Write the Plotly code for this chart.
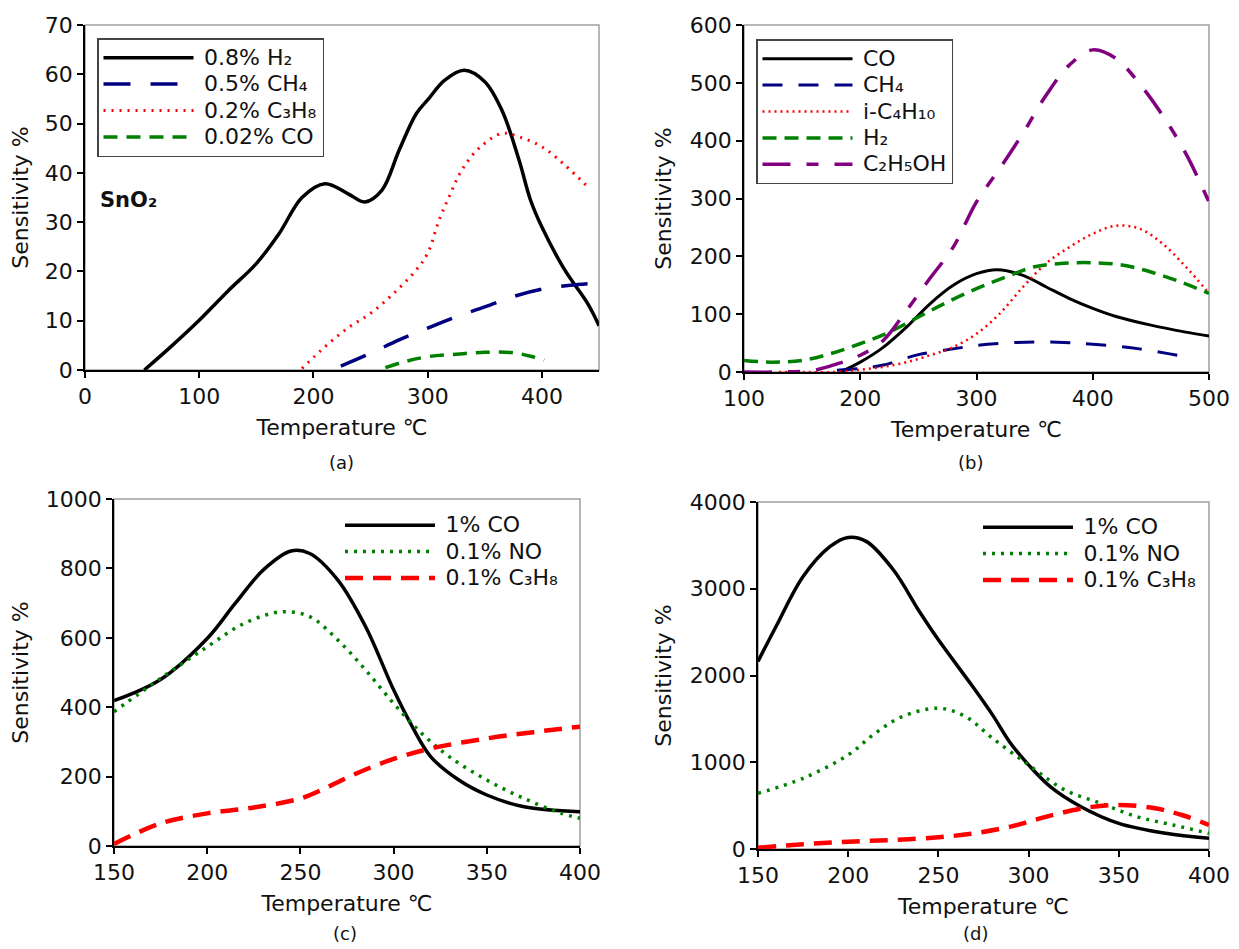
import plotly.graph_objects as go

# ---------------- data ----------------
# (a) SnO2
a_h2_T = [52, 75, 100, 125, 150, 170, 190, 210, 230, 245, 260, 275, 290, 300, 315, 332, 350, 365, 380, 390, 400, 420, 440, 450]
a_h2_S = [0, 4.7, 10.1, 16, 21.6, 27.7, 35, 37.8, 35.8, 34.1, 36.5, 44.6, 52, 54.8, 58.8, 60.8, 58.5, 52.7, 42.6, 34.5, 29, 20.3, 13.5, 9]
a_ch4_T = [224, 250, 275, 300, 325, 350, 375, 400, 425, 445]
a_ch4_S = [0.8, 3.4, 6.1, 8.5, 10.8, 12.8, 14.9, 16.4, 17.2, 17.6]
a_c3h8_T = [190, 210, 230, 250, 270, 290, 300, 310, 320, 330, 345, 365, 380, 400, 420, 440]
a_c3h8_S = [0.3, 4.7, 8.5, 11.5, 15.5, 20.3, 23.7, 30.4, 35.8, 40.6, 45, 48, 47.3, 45.3, 41.6, 37.2]
a_co_T = [263, 280, 300, 325, 350, 375, 390, 402]
a_co_S = [0.5, 1.7, 2.7, 3.2, 3.6, 3.5, 2.8, 2.0]

# (b)
b_co_T = [183, 200, 220, 240, 260, 280, 300, 318, 340, 360, 380, 400, 420, 450, 480, 500]
b_co_S = [0, 17, 43, 78, 118, 150, 170, 177, 167, 147, 127, 110, 96, 81, 69, 62]
b_ch4_T = [180, 200, 220, 250, 280, 300, 325, 350, 375, 400, 440, 483]
b_ch4_S = [3, 6, 12, 30, 40, 46, 50, 52, 51, 48, 40, 25]
b_c4h10_T = [130, 150, 177, 200, 220, 240, 260, 280, 300, 320, 340, 360, 380, 400, 420, 440, 460, 480, 500]
b_c4h10_S = [0, 0, 0, 4, 9, 17, 29, 43, 66, 101, 147, 188, 216, 239, 253, 248, 222, 182, 136]
b_h2_T = [100, 125, 150, 175, 200, 225, 250, 275, 300, 325, 350, 375, 400, 425, 450, 475, 500]
b_h2_S = [20, 17, 20, 32, 49, 69, 95, 121, 144, 164, 182, 188, 189, 185, 173, 156, 136]
b_eth_T = [100, 130, 160, 180, 200, 220, 240, 260, 280, 300, 320, 340, 360, 380, 400, 420, 440, 460, 480, 500]
b_eth_S = [0, 0, 3, 14, 29, 55, 107, 162, 216, 294, 352, 413, 479, 531, 557, 542, 499, 444, 378, 294]

# (c)
c_co_T = [150, 175, 200, 215, 230, 245, 255, 270, 285, 300, 310, 320, 335, 350, 370, 400]
c_co_S = [419, 480, 598, 699, 795, 850, 843, 767, 632, 450, 344, 257, 190, 147, 113, 99]
c_no_T = [150, 175, 200, 220, 240, 255, 270, 285, 300, 315, 330, 350, 370, 390, 400]
c_no_S = [387, 483, 574, 642, 675, 661, 594, 507, 411, 325, 257, 190, 137, 94, 80]
c_c3h8_T = [150, 175, 200, 225, 250, 265, 280, 300, 320, 350, 375, 400]
c_c3h8_S = [6, 65, 94, 111, 137, 171, 209, 251, 281, 310, 328, 344]

# (d)
d_co_T = [150, 160, 175, 190, 200, 210, 225, 240, 250, 269, 280, 290, 300, 312, 329, 350, 376, 400]
d_co_S = [2162, 2565, 3142, 3488, 3592, 3546, 3219, 2720, 2411, 1873, 1546, 1219, 969, 719, 488, 296, 181, 123]
d_no_T = [150, 175, 200, 215, 230, 250, 265, 280, 300, 320, 340, 360, 380, 400]
d_no_S = [642, 815, 1085, 1335, 1527, 1623, 1527, 1277, 969, 681, 527, 373, 277, 181]
d_c3h8_T = [150, 175, 200, 225, 250, 270, 290, 310, 330, 350, 370, 385, 400]
d_c3h8_S = [15, 54, 85, 104, 135, 181, 258, 373, 469, 508, 469, 392, 277]

xtitle = "Temperature ℃"
ytitle = "Sensitivity %"

# ---------------- figure ----------------
OFF = 8                      # page body margin of the browser
W, H = 1239 - OFF, 949 - OFF
FONT = "DejaVu Sans"
FS = 22
fig = go.Figure()

def fx(X):
    return (X - OFF) / W

def fy(Y):
    return (H - (Y - OFF)) / H

def lab(s):
    return '<span style="font-size:22px">\u2005' + s + '</span>'

def add(x, y, name, color, width, dash, ax, legend):
    fig.add_trace(go.Scatter(
        x=x, y=y, name=lab(name), mode="lines",
        line=dict(color=color, width=width, dash=dash, shape="spline", smoothing=1.0),
        xaxis="x" + ("" if ax == 1 else str(ax)),
        yaxis="y" + ("" if ax == 1 else str(ax)),
        legend="legend" + ("" if legend == 1 else str(legend)),
    ))

NAVY, RED, GREEN, PURPLE = "#000080", "#ff0000", "#008000", "#800080"

add(a_h2_T, a_h2_S, "0.8% H₂", "black", 3.5, "solid", 1, 1)
add(a_ch4_T, a_ch4_S, "0.5% CH₄", NAVY, 3.5, "27px,20px", 1, 1)
add(a_c3h8_T, a_c3h8_S, "0.2% C₃H₈", RED, 3, "2px,6px", 1, 1)
add(a_co_T, a_co_S, "0.02% CO", GREEN, 3.5, "14px,9px", 1, 1)

add(b_co_T, b_co_S, "CO", "black", 3, "solid", 2, 2)
add(b_ch4_T, b_ch4_S, "CH₄", NAVY, 3, "20px,16px", 2, 2)
add(b_c4h10_T, b_c4h10_S, "i-C₄H₁₀", RED, 2.5, "2px,4px", 2, 2)
add(b_h2_T, b_h2_S, "H₂", GREEN, 3.5, "14px,8px", 2, 2)
add(b_eth_T, b_eth_S, "C₂H₅OH", PURPLE, 3.5, "28px,16px,12px,16px", 2, 2)

add(c_co_T, c_co_S, "1% CO", "black", 3.5, "solid", 3, 3)
add(c_no_T, c_no_S, "0.1% NO", GREEN, 3.5, "3px,6px", 3, 3)
add(c_c3h8_T, c_c3h8_S, "0.1% C₃H₈", RED, 4.5, "18px,10px", 3, 3)

add(d_co_T, d_co_S, "1% CO", "black", 3.5, "solid", 4, 4)
add(d_no_T, d_no_S, "0.1% NO", GREEN, 3.5, "3px,6px", 4, 4)
add(d_c3h8_T, d_c3h8_S, "0.1% C₃H₈", RED, 4.5, "18px,10px", 4, 4)

axis_common = dict(
    showgrid=False, zeroline=False, showline=True, linecolor="black", linewidth=1.5,
    ticks="outside", ticklen=6, tickwidth=1.5, tickcolor="black",
    tickfont=dict(family=FONT, size=FS, color="#111"),
    mirror=False, automargin=False, ticklabeloverflow="allow",
)

panels = [
    # (xl, xr, yt, yb, xrange, dtx, yrange, dty) in reference pixels
    (85, 599, 25, 370, [0, 450], 100, [0, 70], 10),
    (744, 1209, 25, 372, [100, 500], 100, [0, 600], 100),
    (114, 580, 499, 846, [150, 400], 50, [0, 1000], 200),
    (758, 1209, 502, 849, [150, 400], 50, [0, 4000], 1000),
]

layout = dict(
    width=W, height=H, margin=dict(l=0, r=0, t=0, b=0, autoexpand=False),
    paper_bgcolor="white", plot_bgcolor="white",
    font=dict(family=FONT, size=FS, color="#111"),
)
shapes = []
for i, (xl, xr, yt, yb, xr_, dtx, yr_, dty) in enumerate(panels, start=1):
    sfx = "" if i == 1 else str(i)
    layout["xaxis" + sfx] = dict(
        axis_common, domain=[fx(xl), fx(xr)], range=xr_, dtick=dtx, tick0=0,
        anchor="y" + sfx,
        title=dict(text=xtitle, font=dict(family=FONT, size=FS, color="#111"), standoff=11),
    )
    layout["yaxis" + sfx] = dict(
        axis_common, domain=[fy(yb), fy(yt)], range=yr_, dtick=dty, tick0=0,
        anchor="x" + sfx,
        title=dict(text=ytitle, font=dict(family=FONT, size=FS, color="#111"), standoff=12),
    )
    # light grey frame (top/right)
    shapes.append(dict(type="rect", xref="x" + sfx + " domain", yref="y" + sfx + " domain",
                       x0=0, x1=1, y0=0, y1=1, line=dict(color="#a0a0a0", width=1.5),
                       layer="below"))

layout["shapes"] = shapes

leg_font = dict(family=FONT, size=18, color="#111")
layout["legend"] = dict(x=fx(97), y=fy(38), xanchor="left", yanchor="top",
                        bordercolor="#444", borderwidth=1.5, bgcolor="white",
                        font=leg_font, itemwidth=90, tracegroupgap=0)
layout["legend2"] = dict(x=fx(756), y=fy(39), xanchor="left", yanchor="top",
                         bordercolor="#444", borderwidth=1.5, bgcolor="white",
                         font=leg_font, itemwidth=90, tracegroupgap=0)
layout["legend3"] = dict(x=fx(340), y=fy(507), xanchor="left", yanchor="top",
                         borderwidth=0, bgcolor="rgba(0,0,0,0)",
                         font=leg_font, itemwidth=90, tracegroupgap=0)
layout["legend4"] = dict(x=fx(978), y=fy(509), xanchor="left", yanchor="top",
                         borderwidth=0, bgcolor="rgba(0,0,0,0)",
                         font=leg_font, itemwidth=90, tracegroupgap=0)

ann = []
for t, cx, cy in [("(a)", 341, 463), ("(b)", 971, 463), ("(c)", 345, 933), ("(d)", 975, 933)]:
    ann.append(dict(text=t, x=fx(cx), y=fy(cy), xref="paper", yref="paper",
                    showarrow=False, xanchor="center", yanchor="middle",
                    font=dict(family=FONT, size=18, color="#111")))
ann.append(dict(text="<b>SnO₂</b>", x=fx(98), y=fy(200), xref="paper", yref="paper",
                showarrow=False, xanchor="left", yanchor="middle",
                font=dict(family=FONT, size=21, color="#111")))
layout["annotations"] = ann

fig.update_layout(**layout)
fig.write_html("out.html")
